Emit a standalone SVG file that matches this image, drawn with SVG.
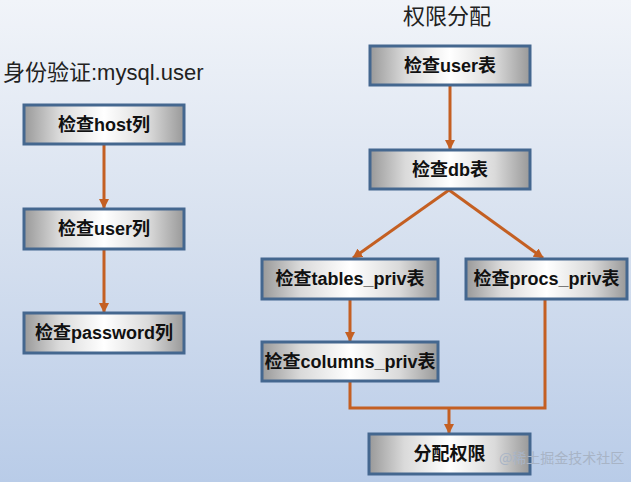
<svg xmlns="http://www.w3.org/2000/svg" width="631" height="482" viewBox="0 0 631 482">
<defs>
<linearGradient id="bg" x1="0" y1="0" x2="0" y2="1">
<stop offset="0" stop-color="#f1f4f9"/>
<stop offset="0.5" stop-color="#d6e0ef"/>
<stop offset="1" stop-color="#b9cce8"/>
</linearGradient>
<linearGradient id="boxfill" x1="0" y1="0" x2="1" y2="0">
<stop offset="0" stop-color="#999999"/>
<stop offset="0.22" stop-color="#dadada"/>
<stop offset="0.5" stop-color="#ffffff"/>
<stop offset="0.78" stop-color="#dadada"/>
<stop offset="1" stop-color="#999999"/>
</linearGradient>
<marker id="ah" viewBox="0 0 10 10" refX="9" refY="5" markerWidth="3.4" markerHeight="3.4" orient="auto" markerUnits="strokeWidth">
<path d="M0,0 L10,5 L0,10 Z" fill="#c45f22"/>
</marker>
</defs>
<style>
.box{fill:url(#boxfill);stroke:#44678f;stroke-width:3}
.lbl{font-family:"Liberation Sans","Noto Sans CJK SC",sans-serif;font-weight:bold;font-size:18px;fill:#111;text-anchor:middle}
.title{font-family:"Liberation Sans","Noto Sans CJK SC",sans-serif;font-size:22px;fill:#222}
.conn path{fill:none;stroke:#c45f22;stroke-width:3}
.wm{font-family:"Noto Sans CJK SC",sans-serif;font-size:14px;fill:#a8b4c6}
</style>
<rect x="0" y="0" width="631" height="482" fill="url(#bg)"/>
<text class="title" x="3" y="80">身份验证:mysql.user</text>
<text class="title" x="403" y="24">权限分配</text>
<g class="conn" id="connectors">
<path d="M104,144 V208" marker-end="url(#ah)"/>
<path d="M104,249 V312" marker-end="url(#ah)"/>
<path d="M450,85 V149" marker-end="url(#ah)"/>
<path d="M449,190 L353,258" marker-end="url(#ah)"/>
<path d="M449,190 L543,258" marker-end="url(#ah)"/>
<path d="M350,299 V341" marker-end="url(#ah)"/>
<path d="M350,381 V408 H545 V299"/>
<path d="M449,408 V433" marker-end="url(#ah)"/>
</g>
<g id="host"><rect class="box" x="24" y="105" width="160" height="39"/><text class="lbl" x="104" y="131">检查host列</text></g>
<g id="userCol"><rect class="box" x="24" y="209" width="160" height="40"/><text class="lbl" x="104" y="235">检查user列</text></g>
<g id="password"><rect class="box" x="24" y="313" width="160" height="40"/><text class="lbl" x="104" y="339">检查password列</text></g>
<g id="userTbl"><rect class="box" x="370" y="46" width="160" height="39"/><text class="lbl" x="450" y="72">检查user表</text></g>
<g id="db"><rect class="box" x="370" y="150" width="160" height="39"/><text class="lbl" x="450" y="176">检查db表</text></g>
<g id="tables"><rect class="box" x="262" y="259" width="176" height="40"/><text class="lbl" x="350" y="285">检查tables_priv表</text></g>
<g id="procs"><rect class="box" x="466" y="259" width="161" height="40"/><text class="lbl" x="546.5" y="285">检查procs_priv表</text></g>
<g id="columns"><rect class="box" x="262" y="342" width="176" height="39"/><text class="lbl" x="350" y="368">检查columns_priv表</text></g>
<g id="grant"><rect class="box" x="369" y="434" width="161" height="40"/><text class="lbl" x="449.5" y="460">分配权限</text></g>
<text class="wm" x="499" y="463">@稀土掘金技术社区</text>
</svg>
